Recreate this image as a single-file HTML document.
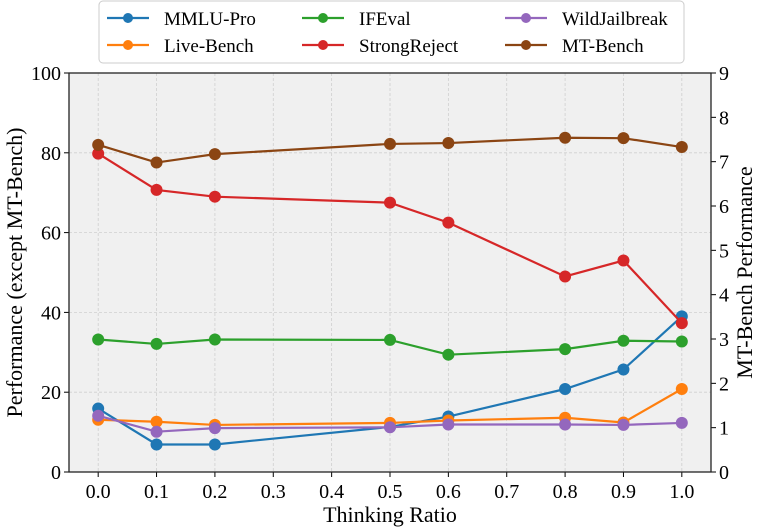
<!DOCTYPE html>
<html><head><meta charset="utf-8"><style>
body{margin:0;background:#fff;}
svg{display:block;font-family:"Liberation Serif",serif;}
</style></head><body>
<svg id="chart" width="757" height="527"></svg>
<script>
const xs=[0,0.1,0.2,0.5,0.6,0.8,0.9,1.0];
const mmlu=[15.9,6.9,6.9,11.3,13.9,20.8,25.7,39.0];
const live=[13.1,12.6,11.8,12.3,12.9,13.6,12.4,20.8];
const ifeval=[33.2,32.1,33.2,33.1,29.4,30.8,32.9,32.7];
const strong=[79.8,70.7,69.0,67.5,62.5,49.0,53.0,37.3];
const wild=[14.1,10.1,11.0,11.2,11.9,11.9,11.8,12.3];
const mtbench=[7.38,6.98,7.17,7.40,7.42,7.54,7.53,7.33];
const xTicks=[0,0.1,0.2,0.3,0.4,0.5,0.6,0.7,0.8,0.9,1.0];
const yTicks=[0,20,40,60,80,100];
const y2Ticks=[0,1,2,3,4,5,6,7,8,9];
const NS="http://www.w3.org/2000/svg";
const svg=document.getElementById('chart');
const L=69,R=711,T=73,B=472;
const X=v=>L+(v+0.05)/1.1*(R-L);
const Y=v=>B-v/100*(B-T);
const Y2=v=>B-v/9*(B-T);
function el(t,a,p){const e=document.createElementNS(NS,t);for(const k in a)e.setAttribute(k,a[k]);(p||svg).appendChild(e);return e;}
const bg=el('rect',{x:L,y:T,width:R-L,height:B-T,fill:'#f0f0f0'});


xTicks.forEach(t=>{
 const g=el('line',{x1:X(t),x2:X(t),y1:T,y2:B,stroke:'#cfcfcf','stroke-dasharray':'3,2','stroke-width':0.8});
 
 
 el('line',{x1:X(t),x2:X(t),y1:B,y2:B+5,stroke:'#000'});
 const tx=el('text',{x:X(t),y:B+26,'text-anchor':'middle','font-size':20});
 tx.textContent=t.toFixed(1);
 
 
});
yTicks.forEach(t=>{
 if(t>0&&t<100){const g=el('line',{x1:L,x2:R,y1:Y(t),y2:Y(t),stroke:'#cfcfcf','stroke-dasharray':'3,2','stroke-width':0.8});
 
 }
 el('line',{x1:L-5,x2:L,y1:Y(t),y2:Y(t),stroke:'#000'});
 const tx=el('text',{x:L-8,y:Y(t)+7,'text-anchor':'end','font-size':20});
 tx.textContent=t;
 
 
});
y2Ticks.forEach(t=>{
 el('line',{x1:R,x2:R+5,y1:Y2(t),y2:Y2(t),stroke:'#000'});
 const tx=el('text',{x:R+8,y:Y2(t)+7,'font-size':20});
 tx.textContent=t;
 
 
});
const series=[
 ['mmlu-pro',mmlu,'#1f77b4',Y],['live-bench',live,'#ff7f0e',Y],['ifeval',ifeval,'#2ca02c',Y],
 ['strongreject',strong,'#d62728',Y],['wildjailbreak',wild,'#9467bd',Y],['mt-bench',mtbench,'#8b4513',Y2]];
series.forEach(([n,d,c,fy])=>{
 const g=el('g',{});
 
 
 const p=el('polyline',{points:d.map((v,i)=>X(xs[i])+','+fy(v)).join(' '),fill:'none',stroke:c,'stroke-width':2.2},g);
 
 
 d.forEach((v,i)=>{const m=el('circle',{cx:X(xs[i]),cy:fy(v),r:6,fill:c},g);
 
 });
});
const fr=el('rect',{x:L,y:T,width:R-L,height:B-T,fill:'none',stroke:'#222','stroke-width':1.3});


const xl=el('text',{x:(L+R)/2,y:522,'text-anchor':'middle','font-size':22});
xl.textContent='Thinking Ratio';


const yl=el('text',{transform:'translate(22,'+(T+B)/2+') rotate(-90)','text-anchor':'middle','font-size':22});
yl.textContent='Performance (except MT-Bench)';


const y2l=el('text',{transform:'translate(752,'+(T+B)/2+') rotate(-90)','text-anchor':'middle','font-size':22});
y2l.textContent='MT-Bench Performance';


const lg=el('g',{});


el('rect',{x:99,y:1,width:585,height:62,rx:4,fill:'#fff',stroke:'#ccc'},lg);
const legItems=[['MMLU-Pro','#1f77b4',0,0],['Live-Bench','#ff7f0e',0,1],['IFEval','#2ca02c',1,0],['StrongReject','#d62728',1,1],['WildJailbreak','#9467bd',2,0],['MT-Bench','#8b4513',2,1]];
const colX=[107,302,505];
legItems.forEach(([n,c,ci,ri])=>{
 const g=el('g',{},lg);
 
 
 const y=18+ri*27;
 el('line',{x1:colX[ci],x2:colX[ci]+42,y1:y,y2:y,stroke:c,'stroke-width':2.2},g);
 el('circle',{cx:colX[ci]+21,cy:y,r:5,fill:c},g);
 const t=el('text',{x:colX[ci]+57,y:y+7,'font-size':19},g);
 t.textContent=n;
});
</script>
</body></html>
